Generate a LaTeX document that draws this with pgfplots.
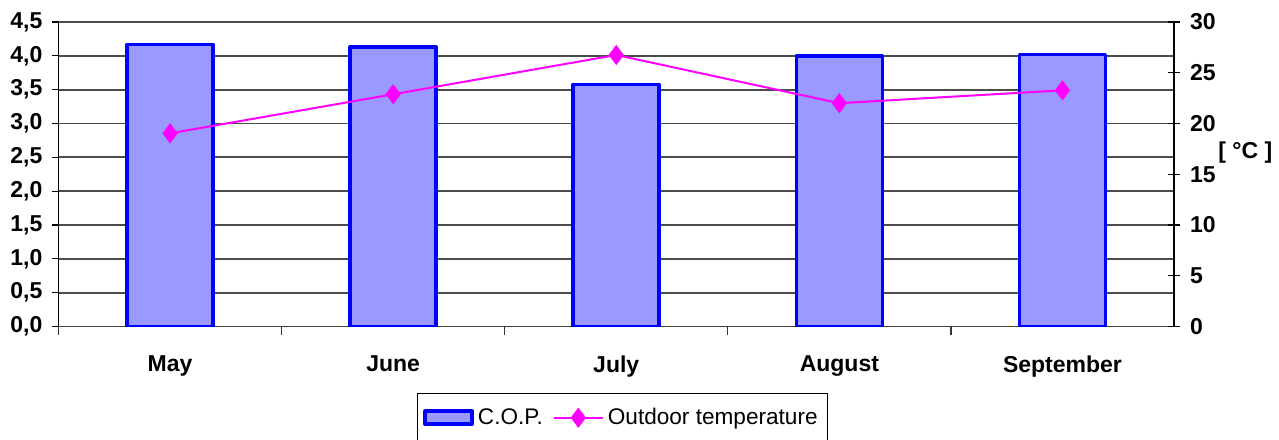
\documentclass[border=0pt]{standalone}
\usepackage{pgfplots}
\pgfplotsset{compat=1.18}
\usepackage{fontspec}
\setmainfont{Liberation Sans}
\definecolor{barfill}{HTML}{9999FF}
\definecolor{barline}{HTML}{0000FF}
\definecolor{tline}{HTML}{FF00FF}
\pgfplotsset{
  barleg/.style={legend image code/.code={\draw[##1] (0pt,-3.2pt) rectangle (23.5pt,3.2pt);}},
  lineleg/.style={legend image code/.code={\draw[mark repeat=2, mark phase=2, ##1] plot coordinates {(0pt,0pt) (12.25pt,0pt) (24.5pt,0pt)};}},
}
\begin{document}
\begin{tikzpicture}
\begin{axis}[
  name=main,
  scale only axis, width=557.75pt, height=152.25pt,
  xmin=-0.5, xmax=4.5, ymin=0, ymax=4.5,
  axis y line*=left, axis x line*=bottom,
  axis line style={-},
  x axis line style={draw=black!75, line width=0.9pt},
  y axis line style={draw=black, line width=0.6pt},
  xtick={0,1,2,3,4},
  xticklabels={May,June,July,August,September},
  xtick style={draw=none},
  extra x ticks={-0.5,0.5,1.5,2.5,3.5},
  extra x tick labels={},
  extra x tick style={xtick style={draw=black!80, line width=0.6pt}, major tick length=4pt, tick align=outside, grid=none},
  ytick={0,0.5,...,4.5},
  ymajorgrids,
  grid style={draw=black!70, line width=0.9pt},
  ytick style={draw=black, line width=0.6pt},
  major tick length=3pt, tick align=outside,
  tick label style={font=\fontsize{11.5}{13}\selectfont\bfseries},
  xticklabel style={yshift=-8pt},
  yticklabel style={xshift=-1.5pt, /pgf/number format/.cd, fixed, fixed zerofill, precision=1, use comma, assume math mode=true},
  legend style={at={(0.5056,-0.22)}, anchor=north, draw=black, line width=0.5pt, font=\fontsize{11.3}{13}\selectfont, legend columns=2, inner xsep=3pt, inner ysep=5pt,
    /tikz/every even column/.append style={column sep=3pt}},
]
\coordinate (SW) at (rel axis cs:0,0);
\coordinate (NE) at (rel axis cs:1,1);
\addplot[ybar, bar width=43pt, fill=barfill, draw=barline, line width=1.8pt, line join=round, barleg]
  coordinates {(0,4.17) (1,4.13) (2,3.576) (3,4.00) (4,4.02)};
\addlegendentry{C.O.P.}
\addlegendimage{draw=tline, line width=1pt, mark=diamond*, mark size=4.8pt, mark options={fill=tline, draw=tline, line width=0.3pt}, lineleg}
\addlegendentry{Outdoor temperature}
\end{axis}
\begin{axis}[
  scale only axis, width=557.75pt, height=152.25pt,
  xmin=-0.5, xmax=4.5, ymin=0, ymax=30,
  axis y line*=right, axis x line=none,
  axis line style={-, draw=black, line width=0.6pt},
  ytick={0,5,...,30},
  ytick style={draw=black, line width=0.6pt},
  major tick length=6pt, tick align=center,
  tick label style={font=\fontsize{11.5}{13}\selectfont\bfseries},
  yticklabel style={xshift=1.5pt, /pgf/number format/assume math mode=true},
]
\coordinate (RL) at (rel axis cs:1,0.57);
\addplot[draw=tline, line width=1pt, mark=diamond*, mark size=4.8pt, mark options={fill=tline, draw=tline, line width=0.3pt}]
  coordinates {(0,19.03) (1,22.88) (2,26.75) (3,22.0) (4,23.27)};
\end{axis}
\node[anchor=west, font=\fontsize{11.5}{13}\selectfont\bfseries, inner sep=0pt] at ([xshift=22pt]RL) {[ °C ]};
\pgfresetboundingbox
\path[use as bounding box] ([xshift=-29.25pt, yshift=-56.25pt]SW) rectangle ([xshift=52.5pt, yshift=11pt]NE);
\end{tikzpicture}
\end{document}
